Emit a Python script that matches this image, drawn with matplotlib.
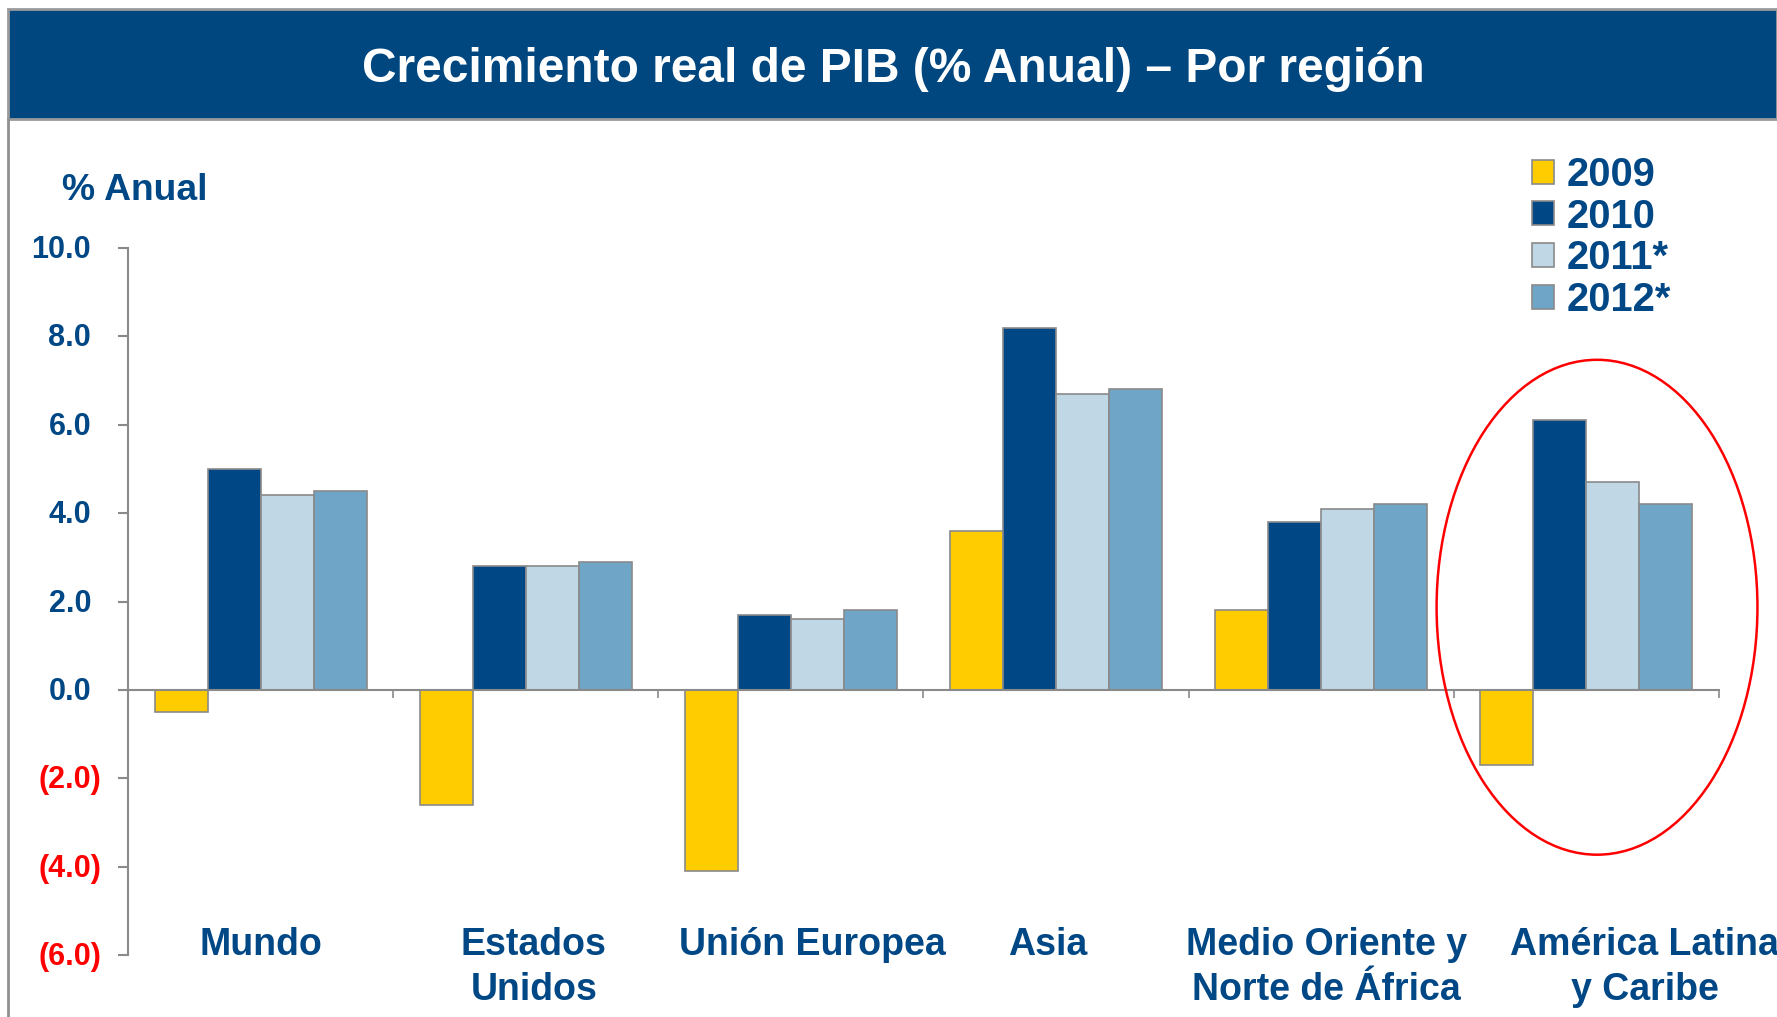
import matplotlib
matplotlib.use("Agg")
import matplotlib.pyplot as plt
import numpy as np
from matplotlib.patches import Rectangle, Ellipse
from matplotlib.lines import Line2D
from matplotlib.transforms import offset_copy

plt.rcParams['font.family'] = ['Liberation Sans', 'DejaVu Sans']

# ---------------- data ----------------
regions = ["Mundo", "Estados\nUnidos", "Unión Europea", "Asia",
           "Medio Oriente y\nNorte de África", "América Latina\ny Caribe"]
series_names = ["2009", "2010", "2011*", "2012*"]
v2009 = [-0.5, -2.6, -4.1, 3.6, 1.8, -1.7]
v2010 = [5.0, 2.8, 1.7, 8.2, 3.8, 6.1]
v2011 = [4.4, 2.8, 1.6, 6.7, 4.1, 4.7]
v2012 = [4.5, 2.9, 1.8, 6.8, 4.2, 4.2]
yticks = [10, 8, 6, 4, 2, 0, -2, -4, -6]
ytick_labels = ["10.0", "8.0", "6.0", "4.0", "2.0", "0.0", "(2.0)", "(4.0)", "(6.0)"]
title = "Crecimiento real de PIB (% Anual) – Por región"
ylabel = "% Anual"

# ---------------- style ----------------
colors = ["#FFCC00", "#004785", "#C0D7E6", "#6FA5C6"]
txt_blue = "#004785"
edge = "#8A8A8A"
label_dx = [0.0, 0.03, 0.08, -0.03, 0.02, 0.22]

W, H = 1777, 1017
fig = plt.figure(figsize=(W / 100, H / 100), dpi=100)
fig.patch.set_facecolor("white")

# title bar
fig.patches.append(Rectangle((8 / W, 1 - 119 / H), 1 - 8 / W, 110 / H,
                             transform=fig.transFigure, facecolor="#00467F",
                             edgecolor="#9A9A9A", linewidth=2))
fig.lines.append(Line2D([8 / W, 8 / W], [0, 1 - 119 / H], transform=fig.transFigure,
                        color="#909090", linewidth=2))
fig.text(893 / W, 1 - 70 / H, title, ha="center", va="center", color="white",
         fontsize=34.5, fontweight="bold")

ax = fig.add_axes([128 / W, 1 - 955 / H, (1719 - 128) / W, (955 - 248) / H])
x = np.arange(len(regions))
w = 0.2
bars = []
for j, vals in enumerate([v2009, v2010, v2011, v2012]):
    b = ax.bar(x + (j - 1.5) * w, vals, width=w, color=colors[j], edgecolor=edge,
               linewidth=1.2, label=series_names[j], zorder=2)
    bars.append(b)

ax.set_xlim(-0.5, len(regions) - 0.5)
ax.set_ylim(-6, 10)
for s in ["top", "right"]:
    ax.spines[s].set_visible(False)
ax.spines["left"].set_color("#8A8A8A")
ax.spines["left"].set_linewidth(1.5)
ax.spines["bottom"].set_position(("data", 0))
ax.spines["bottom"].set_color("#8A8A8A")
ax.spines["bottom"].set_linewidth(1.5)
ax.spines["bottom"].set_zorder(3)

ax.set_xticks(np.arange(len(regions) + 1) - 0.5)
ax.tick_params(axis="x", direction="out", length=6, width=1.2, color="#8A8A8A",
               labelbottom=False)
ax.set_yticks(yticks)
ax.tick_params(axis="y", direction="out", length=7.5, width=1.5, color="#8A8A8A",
               labelleft=False)

for yv, lab in zip(yticks, ytick_labels):
    neg = lab.startswith("(")
    tr = offset_copy(ax.get_yaxis_transform(), fig=fig, x=-27 if neg else -37,
                     y=-2, units="dots")
    ax.text(0, yv, lab, transform=tr, ha="right", va="center", fontsize=22,
            fontweight="bold", color="#FF0000" if neg else txt_blue, clip_on=False)

for i, lab in enumerate(regions):
    for k, line in enumerate(lab.split("\n")):
        tr = offset_copy(ax.transData, fig=fig, x=0, y=-45 * k, units="dots")
        ax.text(i + label_dx[i], -6.0, line, transform=tr, ha="center",
                va="baseline", fontsize=27, fontweight="bold", color=txt_blue,
                clip_on=False)

fig.text(62 / W, 1 - 200 / H, ylabel, ha="left", va="baseline", fontsize=26.8,
         fontweight="bold", color=txt_blue)

ell = Ellipse((5.04, 1.87), 1.21, 11.2, fill=False, edgecolor="#FF0000",
              linewidth=1.8, clip_on=False, zorder=4)
ax.add_patch(ell)

leg = fig.legend(handles=bars, labels=series_names, loc="upper left",
                 bbox_to_anchor=(1532 / W, 1 - 156 / H), frameon=False,
                 prop={"size": 28.7, "weight": "bold"}, handlelength=0.55,
                 handleheight=0.55, handletextpad=0.33, labelspacing=0.09,
                 borderpad=0, borderaxespad=0)
for t in leg.get_texts():
    t.set_color(txt_blue)

fig.savefig("out.png", dpi=100)
